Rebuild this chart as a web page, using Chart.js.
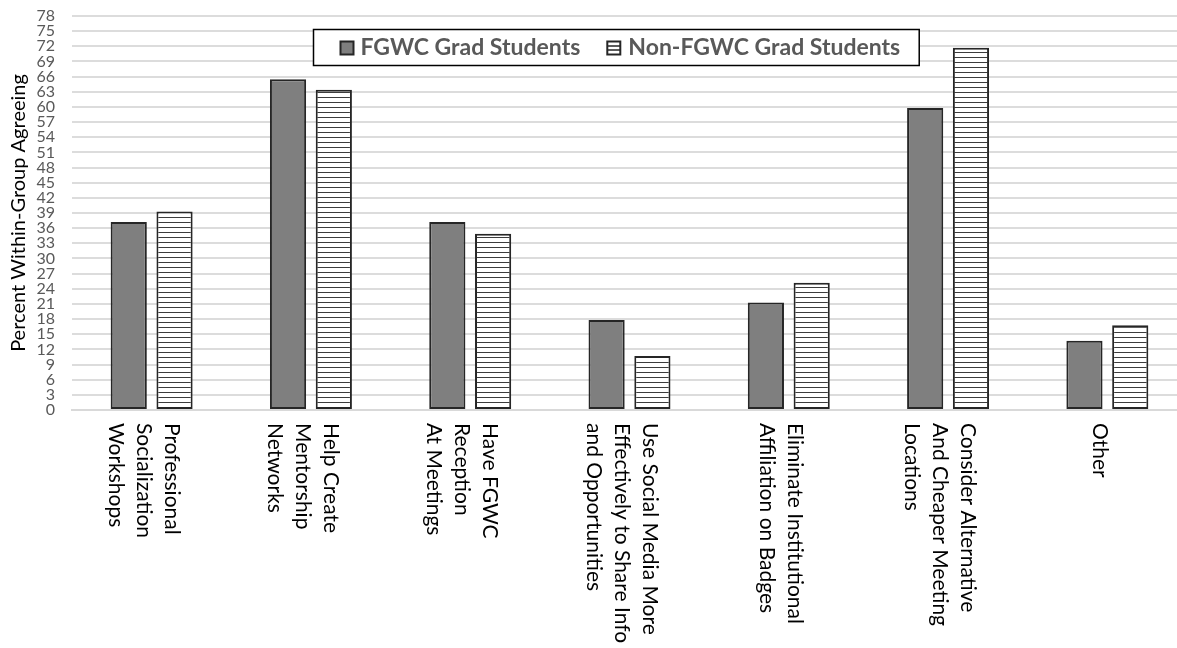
<!DOCTYPE html>
<html>
<head>
<meta charset="utf-8">
<title>Percent Within-Group Agreeing</title>
<script src="https://cdn.jsdelivr.net/npm/chart.js@4.4.1/dist/chart.umd.min.js"></script>
<style>
  html, body { margin: 0; padding: 0; background: #ffffff; overflow: hidden; }
  #wrap { position: relative; width: 1187px; height: 648px; }
</style>
</head>
<body>
<div id="wrap"><canvas id="chart" width="1187" height="648"></canvas></div>
<script>
// Category labels, one entry per wrapped line
const categories = [
  ['Professional', 'Socialization', 'Workshops'],
  ['Help Create', 'Mentorship', 'Networks'],
  ['Have FGWC', 'Reception', 'At Meetings'],
  ['Use Social Media More', 'Effectively to Share Info', 'and Opportunities'],
  ['Eliminate Institutional', 'Affiliation on Badges'],
  ['Consider Alternative', 'And Cheaper Meeting', 'Locations'],
  ['Other']
];

const seriesNames = ['FGWC Grad Students', 'Non-FGWC Grad Students'];

// Percent agreeing within each group
const fgwcValues    = [37.2, 65.5, 37.2, 17.8, 21.3, 59.8, 13.7];
const nonFgwcValues = [39.3, 63.4, 34.9, 10.7, 25.2, 71.7, 16.8];

// Value-axis tick labels
const yTicks = [0, 3, 6, 9, 12, 15, 18, 21, 24, 27, 30, 33, 36, 39, 42, 45, 48, 51, 54, 57, 60, 63, 66, 69, 72, 75, 78];

const canvas = document.getElementById('chart');
const ctx = canvas.getContext('2d');

// Horizontal-stripe fill for the second series
function stripePattern() {
  const tile = document.createElement('canvas');
  tile.width = 8; tile.height = 5;
  const t = tile.getContext('2d');
  t.fillStyle = '#ffffff';
  t.fillRect(0, 0, 8, 5);
  t.fillStyle = '#3c3c3c';
  t.fillRect(0, 2, 8, 1);
  return ctx.createPattern(tile, 'repeat');
}
const stripes = stripePattern();

const FONT = 'Lato, "Open Sans", sans-serif';
const BAR_EDGE = '#262626';
const SOLID_FILL = '#7f7f7f';

// Rotated (clockwise) multi-line category labels under the axis
const categoryLabels = {
  id: 'categoryLabels',
  afterDraw(chart) {
    const xs = chart.scales.x;
    const c = chart.ctx;
    const lineGap = 28;
    const shift = -8;
    c.save();
    c.font = '21px ' + FONT;
    c.fillStyle = '#000000';
    c.textAlign = 'left';
    c.textBaseline = 'middle';
    categories.forEach((lines, i) => {
      const cx = xs.getPixelForValue(i) + shift;
      const n = lines.length;
      lines.forEach((text, j) => {
        const x = cx + ((n - 1) / 2 - j) * lineGap;
        c.save();
        c.translate(x, chart.chartArea.bottom + 13);
        c.rotate(Math.PI / 2);
        c.fillText(text, 0, 0);
        c.restore();
      });
    });
    c.restore();
  }
};

// Boxed legend laid over the top of the plot
const boxedLegend = {
  id: 'boxedLegend',
  afterDraw(chart) {
    const c = chart.ctx;
    const area = chart.chartArea;
    c.save();
    c.font = 'bold 23px ' + FONT;
    const w1 = c.measureText(seriesNames[0]).width;
    const w2 = c.measureText(seriesNames[1]).width;
    const sq = 13;
    const width = 27 + sq + 7 + w1 + 27 + sq + 8 + w2 + 19;
    const centerX = area.left + 544;
    const left = Math.round(centerX - width / 2) + 0.5;
    const top = 29.5, height = 36;
    c.fillStyle = '#ffffff';
    c.fillRect(left, top, width, height);
    c.strokeStyle = '#000000';
    c.lineWidth = 1.5;
    c.strokeRect(left, top, width, height);

    const sqTop = 41.5;
    let x = left + 27;
    // solid swatch
    c.fillStyle = SOLID_FILL;
    c.fillRect(x, sqTop, sq, sq);
    c.strokeStyle = BAR_EDGE;
    c.lineWidth = 2;
    c.strokeRect(x, sqTop, sq, sq);
    x += sq + 7;
    c.fillStyle = '#595959';
    c.textBaseline = 'alphabetic';
    c.textAlign = 'left';
    c.fillText(seriesNames[0], x, 54.5);
    x += w1 + 27;
    // striped swatch
    c.fillStyle = '#ffffff';
    c.fillRect(x, sqTop, sq, sq);
    c.strokeStyle = BAR_EDGE;
    c.lineWidth = 2;
    c.strokeRect(x, sqTop, sq, sq);
    c.lineWidth = 1.5;
    c.beginPath();
    c.moveTo(x, sqTop + 4.5); c.lineTo(x + sq, sqTop + 4.5);
    c.moveTo(x, sqTop + 8.5); c.lineTo(x + sq, sqTop + 8.5);
    c.stroke();
    x += sq + 8;
    c.fillStyle = '#595959';
    c.fillText(seriesNames[1], x, 54.5);
    c.restore();
  }
};

new Chart(ctx, {
  type: 'bar',
  data: {
    labels: categories.map(l => l.join(' ')),
    datasets: [
      {
        label: seriesNames[0],
        data: fgwcValues,
        backgroundColor: SOLID_FILL,
        borderColor: BAR_EDGE,
        borderWidth: 2,
        borderSkipped: false,
        categoryPercentage: 0.575,
        barPercentage: 0.79
      },
      {
        label: seriesNames[1],
        data: nonFgwcValues,
        backgroundColor: stripes,
        borderColor: BAR_EDGE,
        borderWidth: 2,
        borderSkipped: false,
        categoryPercentage: 0.575,
        barPercentage: 0.79
      }
    ]
  },
  options: {
    responsive: false,
    animation: false,
    devicePixelRatio: 1,
    layout: { padding: { top: 16, left: 0, right: 0, bottom: 0 } },
    plugins: {
      legend: { display: false },
      tooltip: { enabled: false }
    },
    scales: {
      x: {
        grid: { display: false },
        border: { display: true, color: '#d9d9d9', width: 2 },
        ticks: { display: false },
        afterFit(scale) { scale.height = 238; }
      },
      y: {
        min: 0,
        max: 78,
        afterBuildTicks(scale) { scale.ticks = yTicks.map(v => ({ value: v })); },
        grid: { color: '#dcdcdc', lineWidth: 2, drawTicks: false },
        border: { display: false },
        ticks: {
          autoSkip: false,
          padding: 17,
          color: '#595959',
          font: { family: FONT, size: 16 }
        },
        title: {
          display: true,
          text: 'Percent Within-Group Agreeing',
          color: '#000000',
          font: { family: FONT, size: 20 },
          padding: { top: 7, bottom: 0 }
        },
        afterFit(scale) {
          scale.width = 72;
          scale.paddingTop = 0;
          scale.paddingBottom = 0;
        }
      }
    }
  },
  plugins: [categoryLabels, boxedLegend]
});
</script>
</body>
</html>
